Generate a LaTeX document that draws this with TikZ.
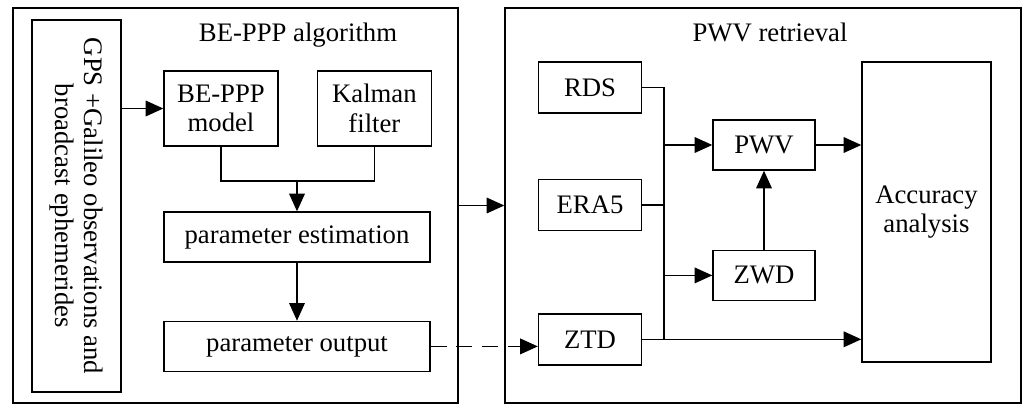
\documentclass[tikz,border=0pt]{standalone}
\usepackage{fontspec}
\setmainfont{Liberation Serif}
\usepackage{tikz}
\usetikzlibrary{arrows.meta, positioning}

\begin{document}
\begin{tikzpicture}[
  font=\fontsize{19}{21}\selectfont,
  node distance=1cm and 1cm,
  panel/.style={rectangle, draw, line width=1pt, minimum height=9.875cm, inner sep=0pt},
  block/.style={rectangle, draw, line width=1pt, minimum width=2.85cm, minimum height=1.875cm, align=center, inner sep=0pt},
  wide/.style={rectangle, draw, line width=1pt, minimum width=6.65cm, minimum height=1.25cm, align=center, inner sep=0pt},
  small/.style={rectangle, draw, line width=1pt, minimum width=2.575cm, minimum height=1.275cm, align=center, inner sep=0pt},
  mid/.style={rectangle, draw, line width=1pt, minimum width=2.55cm, minimum height=1.25cm, align=center, inner sep=0pt},
  arrow/.style={-{Triangle[length=4.4mm, width=3.9mm]}, line width=1pt},
  link/.style={line width=1pt},
  title/.style={anchor=base, inner sep=0pt}
]
\useasboundingbox (0,0) rectangle (25.6,10.125);

% panels
\node[panel, minimum width=11.125cm] (algo) at (5.8875,4.9875) {};
\node[panel, minimum width=12.9cm] (retr) at (19.075,4.9875) {};
\node[title] (algotitle) at (7.45,9.075) {BE-PPP algorithm};
\node[title] (retrtitle) at (19.25,9.075) {PWV retrieval};

% BE-PPP side
\node[rectangle, draw, line width=1pt, minimum width=9.3cm, minimum height=2.225cm, align=center, inner sep=0pt, rotate=-90] (obs) at (1.9125,4.975) {GPS +Galileo observations and\\broadcast ephemerides};
\node[block] (model) at (5.525,7.4125) {BE-PPP\\model};
\node[block, right=0.95cm of model] (kalman) {Kalman\\filter};
\node[wide] (est) at (7.425,4.2) {parameter estimation};
\node[wide, below=1.45cm of est] (pout) {parameter output};

% PWV side
\node[small] (rds) at (14.75,7.9375) {RDS};
\node[small, below=1.625cm of rds] (era) {ERA5};
\node[small, below=2.05cm of era] (ztd) {ZTD};
\node[mid] (pwv) at (19.1,6.5) {PWV};
\node[mid, below=1.975cm of pwv] (zwd) {ZWD};
\node[rectangle, draw, line width=1pt, minimum width=3.225cm, minimum height=7.5cm, align=center, inner sep=0pt] (acc) at (23.1625,4.825) {Accuracy\\analysis};

\coordinate (merge) at (7.425,5.6);
\coordinate (bus) at (16.6,0);

% connectors
\draw[arrow] (obs.north |- model) -- (model.west);
\draw[link] (model.south) |- (merge) -| (kalman.south);
\draw[arrow] (merge) -- (est.north);
\draw[arrow] (est.south) -- (pout.north);
\draw[arrow] (algo.east) -- (retr.west);
\draw[arrow, dash pattern=on 4mm off 2.4mm] (pout.east) -- (pout.east -| ztd.west);

\draw[link] (rds.east) -| (bus |- ztd);
\draw[link] (era.east) -- (bus |- era);
\draw[arrow] (ztd.east) -- (ztd -| acc.west);
\draw[arrow] (bus |- pwv) -- (pwv.west);
\draw[arrow] (bus |- zwd) -- (zwd.west);
\draw[arrow] (zwd.north) -- (pwv.south);
\draw[arrow] (pwv.east) -- (pwv -| acc.west);

\end{tikzpicture}
\end{document}
